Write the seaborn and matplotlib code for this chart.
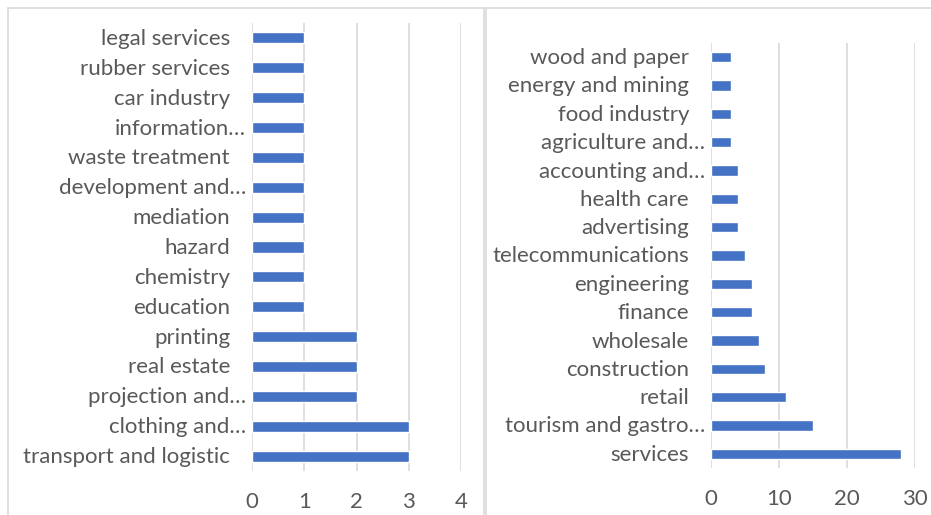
import matplotlib
matplotlib.use("Agg")
import matplotlib.pyplot as plt
import seaborn as sns
import pandas as pd
from matplotlib.patches import Rectangle

left_categories = ["legal services", "rubber services", "car industry", "information…",
                   "waste treatment", "development and…", "mediation", "hazard",
                   "chemistry", "education", "printing", "real estate",
                   "projection and…", "clothing and…", "transport and logistic"]
left_values = [1, 1, 1, 1, 1, 1, 1, 1, 1, 1, 2, 2, 2, 3, 3]
left_ticks = [0, 1, 2, 3, 4]

right_categories = ["wood and paper", "energy and mining", "food industry", "agriculture and…",
                    "accounting and…", "health care", "advertising", "telecommunications",
                    "engineering", "finance", "wholesale", "construction", "retail",
                    "tourism and gastro…", "services"]
right_values = [3, 3, 3, 3, 4, 4, 4, 5, 6, 6, 7, 8, 11, 15, 28]
right_ticks = [0, 10, 20, 30]

sns.set_theme(style="white")
plt.rcParams["font.family"] = ["Lato", "DejaVu Sans"]

W, H = 931, 515
fig = plt.figure(figsize=(W / 100, H / 100), dpi=100)
fig.patch.set_facecolor("white")

BAR = "#4472C4"
GRID = "#D9D9D9"
TXT = "#595959"
FS = 16


def px_axes(x0, x1, y0, y1):
    return fig.add_axes([x0 / W, 1 - y1 / H, (x1 - x0) / W, (y1 - y0) / H])


def draw(ax, cats, vals, ticks):
    df = pd.DataFrame({"cat": cats, "val": vals})
    sns.barplot(data=df, y="cat", x="val", orient="h", color=BAR, width=0.37,
                saturation=1, ax=ax)
    ax.set_xlim(ticks[0], ticks[-1])
    ax.set_ylim(len(cats) - 0.5, -0.5)
    ax.set_xticks(ticks)
    ax.set_xticklabels([str(t) for t in ticks], fontsize=FS, color=TXT)
    ax.tick_params(axis="x", length=0, pad=15)
    ax.set_yticks(range(len(cats)))
    ax.set_yticklabels([])
    ax.tick_params(axis="y", length=0)
    for i, c in enumerate(cats):
        pad = 6 if c.endswith("…") else 22
        ax.annotate(c, xy=(0, i), xycoords=("axes fraction", "data"),
                    xytext=(-pad, -1), textcoords="offset pixels",
                    ha="right", va="center", fontsize=FS, color=TXT)
    ax.set_xlabel("")
    ax.set_ylabel("")
    for s in ax.spines.values():
        s.set_visible(False)
    ax.grid(axis="x", color=GRID, linewidth=1.2)
    ax.set_axisbelow(True)
    ax.set_facecolor("none")


# panel borders
fig.patches.append(Rectangle((8 / W, -0.05), (484 - 8) / W, 1.05 - 8 / H,
                             transform=fig.transFigure, fill=False,
                             edgecolor=GRID, linewidth=1.2))
fig.patches.append(Rectangle((486 / W, -0.05), 0.5, 1.05 - 8 / H,
                             transform=fig.transFigure, fill=False,
                             edgecolor=GRID, linewidth=1.2))

axL = px_axes(252, 461, 23, 471)
draw(axL, left_categories, left_values, left_ticks)

axR = px_axes(711, 915, 43, 468)
draw(axR, right_categories, right_values, right_ticks)

fig.savefig("out.png", dpi=100, facecolor="white")
